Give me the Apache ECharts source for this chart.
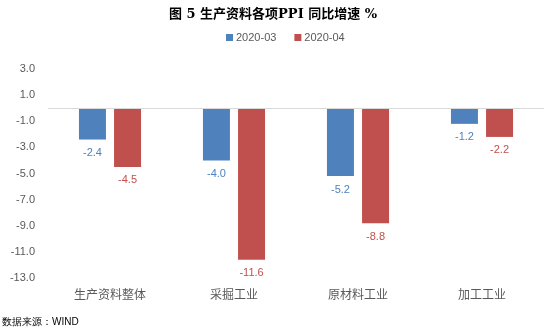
<!DOCTYPE html>
<html>
<head>
<meta charset="utf-8">
<script src="https://cdn.jsdelivr.net/npm/echarts@6/dist/echarts.min.js"></script>
<style>html,body{margin:0;padding:0;background:#fff;}#c{width:550px;height:331px;}</style>
</head>
<body>
<div id="c"></div>
<script>
const categories = ['生产资料整体', '采掘工业', '原材料工业', '加工工业'];
const seriesNames = ['2020-03', '2020-04'];
const valuesMar = [-2.4, -4.0, -5.2, -1.2];
const valuesApr = [-4.5, -11.6, -8.8, -2.2];
const yMin = -13, yMax = 3;

const font = 'Liberation Sans, Noto Sans CJK SC, sans-serif';
const chart = echarts.init(document.getElementById('c'));
function lbl(color) {
  return {
    show: true, position: 'bottom', distance: 8, color: color,
    fontSize: 11, fontFamily: font,
    formatter: p => p.value.toFixed(1)
  };
}
chart.setOption({
  animation: false,
  backgroundColor: '#fff',
  title: {
    text: '图 5 生产资料各项PPI 同比增速 %',
    left: 164, top: 3,
    textStyle: { fontSize: 13, fontWeight: 'bold', color: '#000', fontFamily: 'DejaVu Serif, Noto Sans CJK SC, serif' }
  },
  legend: {
    data: seriesNames, left: 221, top: 27,
    itemWidth: 7, itemHeight: 7, itemGap: 18, icon: 'rect',
    textStyle: { fontSize: 11, color: '#595959', fontFamily: font, padding: [0,0,0,-2] }
  },
  graphic: [{
    type: 'text', left: 2, top: 317,
    style: { text: '数据来源：WIND', fontSize: 10, fill: '#000', font: '10px Noto Sans CJK SC' }
  }],
  grid: { left: 48, right: 6, top: 69, bottom: 53, containLabel: false },
  xAxis: {
    type: 'category', data: categories,
    axisLine: { show: false, onZero: false },
    axisTick: { show: false },
    axisLabel: { margin: 10, fontSize: 12, color: '#595959', fontFamily: 'Noto Sans CJK SC' }
  },
  yAxis: {
    type: 'value', min: yMin, max: yMax, interval: 1,
    splitLine: { show: false },
    axisLine: { show: false }, axisTick: { show: false },
    axisLabel: {
      margin: 13, fontSize: 11, color: '#595959', fontFamily: font,
      formatter: v => (Math.round(v - yMin) % 2 === 0 ? v.toFixed(1) : '')
    }
  },
  series: [
    {
      name: seriesNames[0], type: 'bar', data: valuesMar,
      barWidth: 27, barGap: '30%',
      itemStyle: { color: '#4F81BD' },
      label: lbl('#4F81BD'),
      markLine: {
        silent: true, symbol: 'none', label: { show: false },
        lineStyle: { color: '#d9d9d9', type: 'solid', width: 1 },
        data: [{ yAxis: 0 }]
      }
    },
    {
      name: seriesNames[1], type: 'bar', data: valuesApr,
      barWidth: 27,
      itemStyle: { color: '#C0504D' },
      label: lbl('#C0504D')
    }
  ]
});
</script>
</body>
</html>
